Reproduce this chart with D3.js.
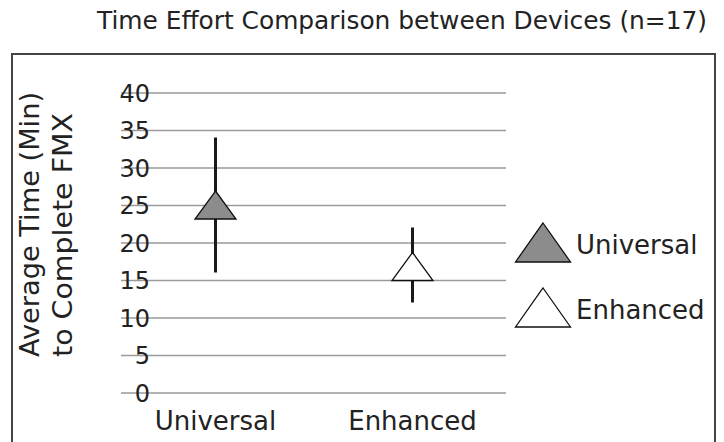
<!DOCTYPE html>
<html>
<head>
<meta charset="utf-8">
<script src="https://cdn.jsdelivr.net/npm/d3@7"></script>
<style>
  html, body { margin: 0; padding: 0; background: #fff; }
  svg { display: block; font-family: "DejaVu Sans", Verdana, sans-serif; }
</style>
</head>
<body>
<svg id="chart" width="724" height="442"></svg>
<script>
// ---- data ----
const categories = ["Universal", "Enhanced"];
const meanValues = [25, 16.8];
const maxValues = [34, 22];
const minValues = [16, 12];
const yTicks = [0, 5, 10, 15, 20, 25, 30, 35, 40];
const seriesFills = ["#8c8c8c", "#ffffff"];
const titleText = "Time Effort Comparison between Devices (n=17)";
const yTitleLines = ["Average Time (Min)", "to Complete FMX"];

// ---- setup ----
const svg = d3.select("#chart");
const W = 724, H = 442;
const textColor = "#222";

svg.append("rect").attr("width", W).attr("height", H).attr("fill", "#fff");

// outer frame
svg.append("rect")
  .attr("x", 12).attr("y", 54).attr("width", 703).attr("height", 420)
  .attr("fill", "none").attr("stroke", "#444").attr("stroke-width", 2);

// title
svg.append("text")
  .attr("x", 97).attr("y", 29)
  .attr("font-size", 24.5).attr("fill", textColor)
  .attr("textLength", 610).attr("lengthAdjust", "spacingAndGlyphs")
  .text(titleText);

// scales
const gridLeft = 121, gridRight = 506;
const y = d3.scaleLinear().domain([0, 40]).range([392.5, 92.5]);
const x = d3.scaleBand().domain(categories).range([117, 511]);
const cx = c => x(c) + x.bandwidth() / 2;

// y axis with gridlines
const yAxis = d3.axisLeft(y).tickValues(yTicks).tickSize(-(gridRight - gridLeft)).tickPadding(0);
const gAxis = svg.append("g").attr("transform", `translate(${gridLeft},0)`).call(yAxis);
gAxis.select(".domain").remove();
gAxis.selectAll(".tick line").attr("stroke", "#9a9a9a").attr("stroke-width", 1.6);
gAxis.selectAll(".tick text")
  .attr("x", 29).attr("dy", null).attr("y", 8.5)
  .attr("text-anchor", "end")
  .attr("font-size", 24).attr("font-family", "DejaVu Sans, Verdana, sans-serif")
  .attr("fill", textColor);
gAxis.selectAll(".tick text").raise();

// y title
const yTitle = svg.append("g");
yTitleLines.forEach((line, i) => {
  yTitle.append("text")
    .attr("transform", `translate(${i === 0 ? 39 : 72},357) rotate(-90)`)
    .attr("font-size", 27).attr("fill", textColor)
    .attr("textLength", i === 0 ? 265 : 244).attr("lengthAdjust", "spacingAndGlyphs")
    .text(line);
});

// x labels
svg.append("g").selectAll("text").data(categories).join("text")
  .attr("x", d => cx(d)).attr("y", 430)
  .attr("text-anchor", "middle")
  .attr("font-size", 26).attr("fill", textColor)
  .text(d => d);

// triangle symbol (wider than tall)
function triangleType(w, h) {
  return {
    draw(ctx) {
      ctx.moveTo(0, -h / 2);
      ctx.lineTo(w / 2, h / 2);
      ctx.lineTo(-w / 2, h / 2);
      ctx.closePath();
    }
  };
}

// whiskers
svg.append("g").selectAll("line").data(categories).join("line")
  .attr("x1", d => cx(d)).attr("x2", d => cx(d))
  .attr("y1", (d, i) => y(maxValues[i])).attr("y2", (d, i) => y(minValues[i]))
  .attr("stroke", "#1a1a1a").attr("stroke-width", 3);

// markers
svg.append("g").selectAll("path").data(categories).join("path")
  .attr("d", d3.symbol().type(triangleType(41, 28)))
  .attr("transform", (d, i) => `translate(${cx(d)},${y(meanValues[i])})`)
  .attr("fill", (d, i) => seriesFills[i])
  .attr("stroke", "#111").attr("stroke-width", 1.3);

// legend
const legend = svg.append("g");
categories.forEach((c, i) => {
  const ly = 242.5 + i * 65;
  legend.append("path")
    .attr("d", d3.symbol().type(triangleType(55, 39))())
    .attr("transform", `translate(543,${ly})`)
    .attr("fill", seriesFills[i])
    .attr("stroke", "#111").attr("stroke-width", 1.3);
  legend.append("text")
    .attr("x", 576).attr("y", 254 + i * 65)
    .attr("font-size", 26).attr("fill", textColor)
    .text(c);
});
</script>
</body>
</html>
